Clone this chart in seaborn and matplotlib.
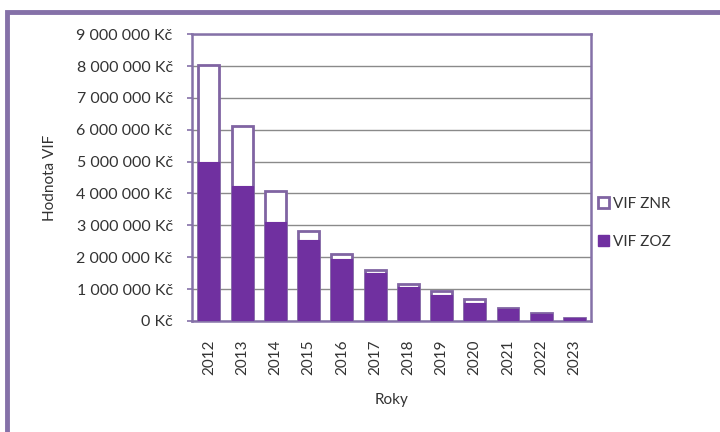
import matplotlib
matplotlib.use("Agg")
import matplotlib.pyplot as plt
from matplotlib.patches import Rectangle, Patch
from matplotlib.ticker import FuncFormatter, MultipleLocator
import pandas as pd
import seaborn as sns

# Values of VIF by year (Kč)
years = ["2012", "2013", "2014", "2015", "2016", "2017",
         "2018", "2019", "2020", "2021", "2022", "2023"]
vif_zoz = [5_000_000, 4_250_000, 3_120_000, 2_530_000, 1_960_000, 1_490_000,
           1_070_000, 820_000, 570_000, 380_000, 230_000, 90_000]
vif_znr = [3_020_000, 1_860_000, 970_000, 300_000, 130_000, 120_000,
           100_000, 120_000, 110_000, 20_000, 10_000, 10_000]

df = pd.DataFrame({"Rok": years, "ZOZ": vif_zoz, "ZNR": vif_znr})
df["Celkem"] = df["ZOZ"] + df["ZNR"]

sns.set_style("white")
plt.rcParams["font.family"] = ["Lato", "DejaVu Sans"]

purple = "#7030A0"
lavender = "#8064A2"
frame = "#8571a8"
text_c = "#333333"

fig = plt.figure(figsize=(7.2, 4.32), dpi=100)
ax = fig.add_axes([0.267, 0.257, 0.554, 0.664])

# Stacked bars: the full height (white, ZNR) first, then ZOZ over it
sns.barplot(data=df, x="Rok", y="Celkem", color="white", width=0.63,
            edgecolor=lavender, linewidth=2.0, saturation=1, ax=ax, zorder=3)
sns.barplot(data=df, x="Rok", y="ZOZ", color=purple, width=0.63,
            edgecolor=purple, linewidth=0.8, saturation=1, ax=ax, zorder=4)

ax.set_ylim(0, 9_000_000)
ax.set_xlim(-0.5, len(years) - 0.5)
ax.yaxis.set_major_locator(MultipleLocator(1_000_000))
ax.yaxis.set_major_formatter(
    FuncFormatter(lambda v, _: f"{int(round(v)):,}".replace(",", " ") + " Kč"))
ax.grid(axis="y", color="#8a8a8a", linewidth=1.0, zorder=0)
ax.set_axisbelow(True)

for s in ax.spines.values():
    s.set_visible(True)
    s.set_color(frame)
    s.set_linewidth(1.8)

ax.tick_params(axis="y", which="major", left=True, length=3.6, width=1.2,
               color=frame, labelsize=11.5, labelcolor=text_c, pad=10.5)
ax.tick_params(axis="x", which="major", bottom=False, labelsize=11,
               labelcolor=text_c, pad=10)
for lbl in ax.get_xticklabels():
    lbl.set_rotation(90)

ax.set_xlabel("Roky", fontsize=11, color=text_c)
ax.set_ylabel("Hodnota VIF", fontsize=11, color=text_c)
ax.xaxis.set_label_coords(0.5, -0.25)
ax.yaxis.set_label_coords(-0.34, 0.5)

handles = [Patch(facecolor="white", edgecolor=lavender, linewidth=2.0, label="VIF ZNR"),
           Patch(facecolor=purple, edgecolor=purple, label="VIF ZOZ")]
fig.legend(handles=handles, loc="center left", bbox_to_anchor=(0.812, 0.484),
           frameon=False, fontsize=11, handlelength=0.7, handleheight=0.7,
           handletextpad=0.25, labelspacing=1.6, labelcolor=text_c)

# Outer chart frame
fig.patches.append(Rectangle((0.0097, -0.05), 1.2, 1.023,
                             transform=fig.transFigure, fill=False,
                             edgecolor=frame, linewidth=3.5, zorder=10))

fig.savefig("out.png", dpi=100, facecolor="white")
